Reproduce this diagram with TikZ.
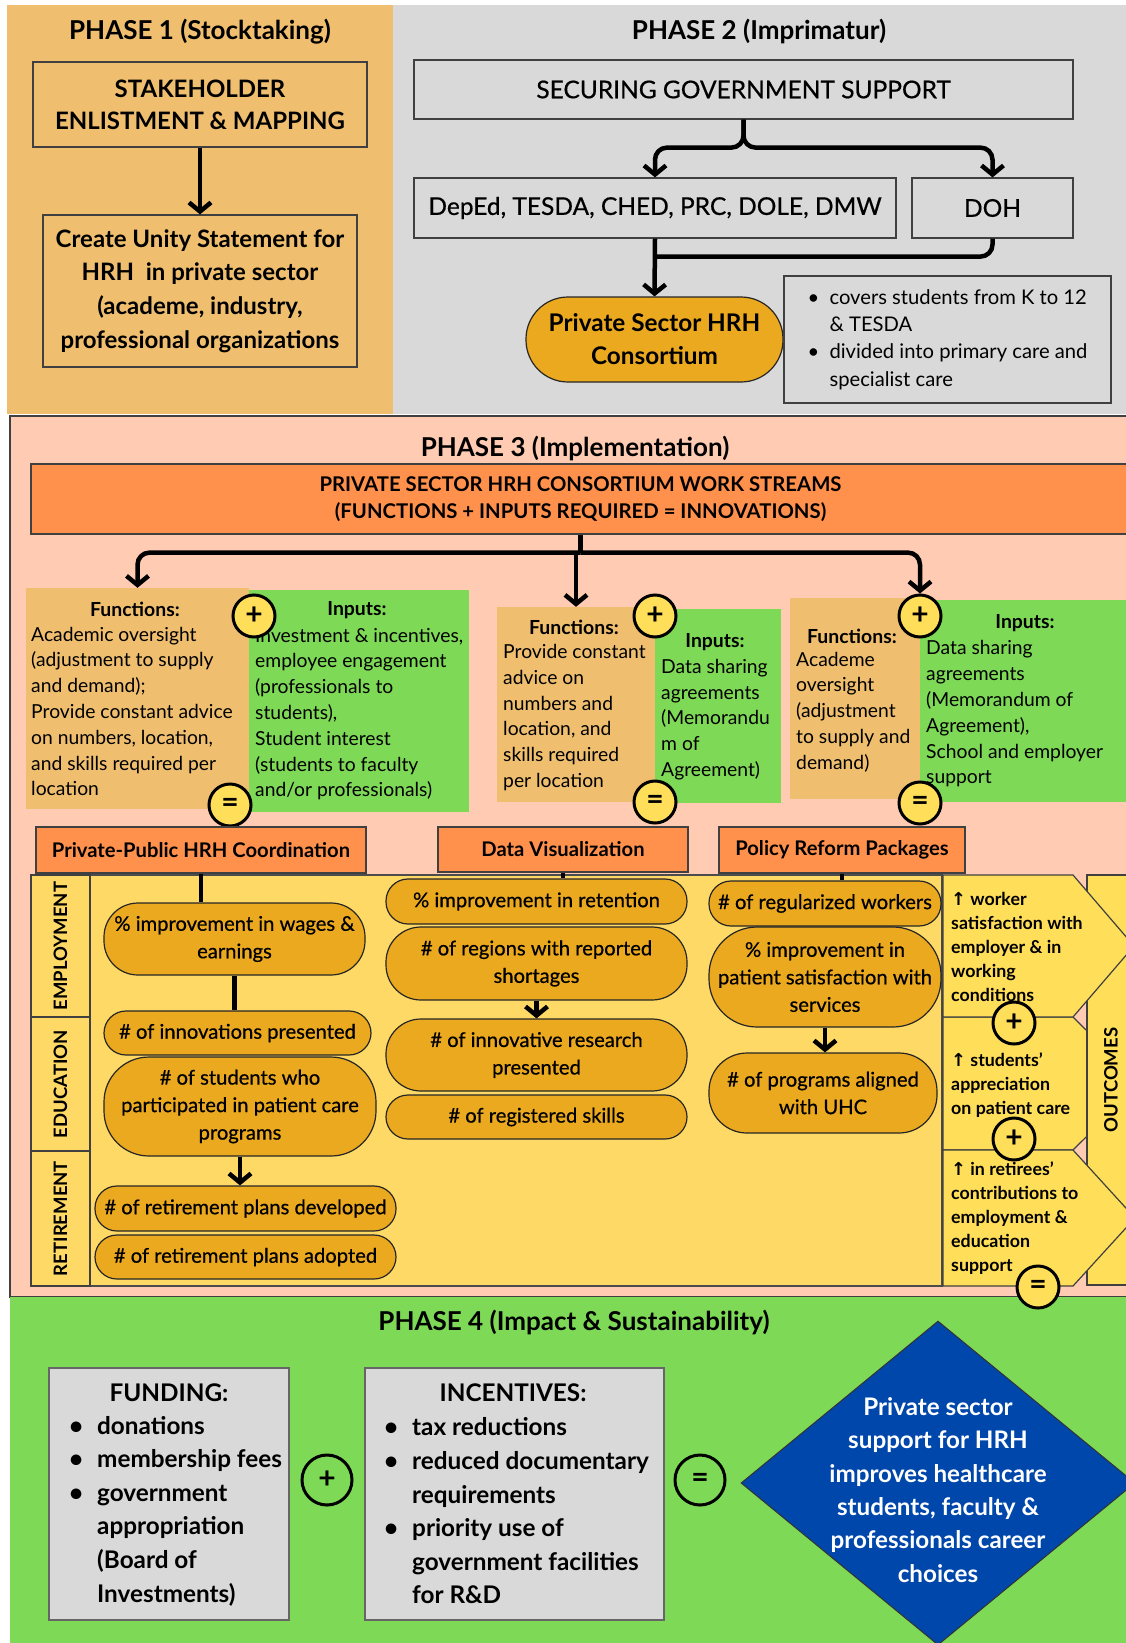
\documentclass[tikz,border=0pt]{standalone}
\usepackage{fontspec}
\setmainfont{Lato}
\newfontfamily\dejavu{DejaVu Sans}
\newfontfamily\latomed[FakeBold=0.6]{Lato}
\usetikzlibrary{arrows.meta, shapes.geometric, positioning, calc}
\definecolor{phaseone}{HTML}{EFBF6F}
\definecolor{phasegrey}{HTML}{D9D9D9}
\definecolor{phasepeach}{HTML}{FFCCB3}
\definecolor{streamorange}{HTML}{FF914D}
\definecolor{inputgreen}{HTML}{7ED957}
\definecolor{panelyellow}{HTML}{FFD966}
\definecolor{pillgold}{HTML}{EBA91F}
\definecolor{signyellow}{HTML}{FFDE59}
\definecolor{goalblue}{HTML}{0047AB}
\newcommand{\fs}[2]{\fontsize{#1}{#2}\selectfont}
\newcommand{\bul}{\makebox[22pt][l]{\textbullet}}
\newcommand{\ind}{\hspace*{22pt}}
\newcommand{\bigbul}{\makebox[28pt][l]{\textbullet}}
\newcommand{\bigind}{\hspace*{28pt}}
\newcommand{\upar}{{\dejavu ↑}}
\tikzset{
  phasetitle/.style={inner sep=0pt, font=\bfseries\fs{26}{30}},
  phbox/.style={draw=black!75, line width=1.2pt, inner sep=0pt, align=center},
  flow/.style={line width=4.5pt, line join=round, -{Straight Barb[length=9pt,width=22pt]}},
  link/.style={line width=4.5pt, line join=round},
  streambox/.style={draw=black!75, line width=1.2pt, fill=streamorange, inner sep=0pt, align=center},
  fnbox/.style={fill=phaseone, inner sep=0pt},
  inbox/.style={fill=inputgreen, inner sep=0pt},
  colhead/.style={inner sep=0pt, font=\bfseries\fs{19.4}{22}},
  coltext/.style={inner sep=0pt, align=left, font=\fs{19.3}{25.8}},
  sign/.style={circle, draw=black, line width=3pt, fill=signyellow, minimum size=42pt, inner sep=0pt, font=\bfseries\fs{30}{30}},
  panel/.style={draw=black!70, line width=1.2pt, fill=panelyellow, inner sep=0pt},
  sidebox/.style={draw=black!75, line width=1.2pt, fill=panelyellow, inner sep=0pt, font=\bfseries\fs{18.5}{20}},
  pill/.style={draw=black!85, line width=1.2pt, fill=pillgold, inner sep=0pt, align=center, font=\latomed\fs{20.2}{27.5}},
  outshape/.style={draw=black!75, line width=1.2pt, fill=signyellow},
  outtext/.style={inner sep=0pt, align=left, font=\bfseries\fs{17.8}{24}},
  greybox/.style={draw=black!60, line width=1.5pt, fill=phasegrey, inner sep=0pt},
  bighead/.style={inner sep=0pt, font=\bfseries\fs{24.3}{28}},
  bigtext/.style={inner sep=0pt, align=left, font=\bfseries\fs{24.3}{33.6}},
  goal/.style={diamond, draw=black!80, line width=1pt, fill=goalblue, inner sep=0pt},
  goaltext/.style={inner sep=0pt, align=center, text=white, font=\bfseries\fs{24.2}{33.4}},
}
\begin{document}
\begin{tikzpicture}[x=1pt, y=-1pt]
\useasboundingbox (0,0) rectangle (1126,1643);
\clip (0,0) rectangle (1126,1643);
\fill[white] (0,0) rectangle (1126,1643);

% Phase backgrounds
\fill[phaseone] (7,5) rectangle (393,414);
\fill[phasegrey] (393,5) rectangle (1126,414);
\draw[fill=phasepeach, line width=1.5pt, draw=black!75] (10,416) rectangle (1140,1297);
\fill[inputgreen] (10,1297) rectangle (1126,1643);

% Phase 1
\node[phasetitle] (ponetitle) at (200,32) {PHASE 1 (Stocktaking)};
\node[phbox, minimum width=334, minimum height=85, font=\bfseries\fs{24}{32}] (stake) at (200,104.5) {STAKEHOLDER\\ENLISTMENT \& MAPPING};
\node[phbox, minimum width=314, minimum height=152, font=\bfseries\fs{24}{33.7}] (unity) at (200,291) {Create Unity Statement for\\HRH~~in private sector\\(academe, industry,\\professional organizations};
\draw[flow] (stake) -- (unity);

% Phase 2
\node[phasetitle] (ptwotitle) at (759,31) {PHASE 2 (Imprimatur)};
\node[phbox, minimum width=659, minimum height=59, font=\latomed\fs{24.5}{30}] (gov) at (743.5,89.5) {SECURING GOVERNMENT SUPPORT};
\node[phbox, minimum width=482, minimum height=60, font=\latomed\fs{24.5}{30}] (agencies) at (655,208) {DepEd, TESDA, CHED, PRC, DOLE, DMW};
\node[phbox, minimum width=161, minimum height=60, font=\latomed\fs{24.5}{30}] (doh) at (992.5,208) {DOH};
\node[pill, minimum width=257, minimum height=85, rounded corners=42, font=\bfseries\fs{24.3}{33}] (consortium) at (654.5,339.5) {Private Sector HRH\\Consortium};
\node[phbox, minimum width=327, minimum height=127, align=left, font=\fs{20.2}{27.2}] (coverage) at (947.5,339.5) {\bul covers students from K to 12\\\ind\& TESDA\\\bul divided into primary care and\\\ind specialist care};
\coordinate (govsplit) at ($(gov.south)+(0,28)$);
\draw[flow, rounded corners=12] (gov.south) -- (govsplit) -| (agencies.north);
\draw[flow, rounded corners=12] (gov.south) -- (govsplit) -| (doh.north);
\coordinate (govmerge) at ($(agencies.south)+(0,18)$);
\draw[link, rounded corners=12] (doh.south) |- (govmerge);
\draw[flow] (agencies.south) -- (consortium.north);

% Phase 3
\node[phasetitle] (pthreetitle) at (575,448) {PHASE 3 (Implementation)};
\node[streambox, minimum width=1099, minimum height=70, font=\bfseries\fs{20.3}{27}] (streams) at (580.5,499) {PRIVATE SECTOR HRH CONSORTIUM WORK STREAMS\\(FUNCTIONS + INPUTS REQUIRED = INNOVATIONS)};

% functions + inputs
\node[fnbox, minimum width=223, minimum height=221] (fnone) at (137.5,698.5) {};
\node[inbox, minimum width=220, minimum height=222] (inone) at (359,701) {};
\node[colhead] (fnonehead) at (135,609) {Functions:};
\node[coltext, anchor=west] (fnonetext) at (31,711.5) {Academic oversight\\(adjustment to supply\\and demand);\\Provide constant advice\\on numbers, location,\\and skills required per\\location};
\node[colhead] (inonehead) at (357,610) {Inputs:};
\node[coltext, anchor=west] (inonetext) at (255,714) {Investment \& incentives,\\employee engagement\\(professionals to\\students),\\Student interest\\(students to faculty\\and/or professionals)};
\node[sign] (plusone) at (254,616) {+};
\node[sign] (eqone) at (230,805) {=};

\node[fnbox, minimum width=158, minimum height=195] (fntwo) at (576,704.5) {};
\node[inbox, minimum width=126, minimum height=194] (intwo) at (718,706) {};
\node[colhead] (fntwohead) at (574,627) {Functions:};
\node[coltext, anchor=west] (fntwotext) at (503,717.5) {Provide constant\\advice on\\numbers and\\location, and\\skills required\\per location};
\node[colhead] (intwohead) at (715,642) {Inputs:};
\node[coltext, anchor=west] (intwotext) at (661,719.5) {Data sharing\\agreements\\(Memorandu\\m of\\Agreement)};
\node[sign] (plustwo) at (655,616) {+};
\node[sign] (eqtwo) at (655,802) {=};

\node[fnbox, minimum width=130, minimum height=201] (fnthree) at (855,698.5) {};
\node[inbox, minimum width=210, minimum height=202] (inthree) at (1025,701) {};
\node[colhead] (fnthreehead) at (852,636) {Functions:};
\node[coltext, anchor=west] (fnthreetext) at (796,712) {Academe\\oversight\\(adjustment\\to supply and\\demand)};
\node[colhead] (inthreehead) at (1025,623) {Inputs:};
\node[coltext, anchor=west] (inthreetext) at (926,714) {Data sharing\\agreements\\(Memorandum of\\Agreement),\\School and employer\\support};
\node[sign] (plusthree) at (920,616) {+};
\node[sign] (eqthree) at (920,803) {=};

\coordinate (fork) at ($(streams.south)+(0,18)$);
\draw[link] (streams.south) -- (fork);
\draw[flow, rounded corners=12] (fork) -| (fnone.north);
\draw[flow, rounded corners=12] (fork) -| (plusthree.north);
\draw[flow] (fork -| fntwo.north) -- (fntwo.north);

% work streams
\node[streambox, minimum width=330, minimum height=46, font=\bfseries\fs{20.2}{24}] (wsone) at (201,850) {Private-Public HRH Coordination};
\node[streambox, minimum width=250, minimum height=45, font=\bfseries\fs{20.2}{24}] (wstwo) at (563,849.5) {Data Visualization};
\node[streambox, minimum width=246, minimum height=46, font=\bfseries\fs{20.2}{24}] (wsthree) at (842,850) {Policy Reform Packages};

\node[panel, minimum width=911, minimum height=411] (panel) at (486.5,1080.5) {};
\node[sidebox, rotate=90, minimum width=142, minimum height=59] (employment) at (60.5,946) {EMPLOYMENT};
\node[sidebox, rotate=90, minimum width=134, minimum height=59] (education) at (60.5,1084) {EDUCATION};
\node[sidebox, rotate=90, minimum width=135, minimum height=59] (retirement) at (60.5,1218.5) {RETIREMENT};

% indicators
\node[pill, minimum width=261, minimum height=72, rounded corners=34] (wages) at (234.5,939) {\% improvement in wages \&\\earnings};
\node[pill, minimum width=267, minimum height=44, rounded corners=22] (innovations) at (237.5,1033) {\# of innovations presented};
\node[pill, minimum width=272, minimum height=99, rounded corners=45] (studentsprog) at (240,1106.5) {\# of students who\\participated in patient care\\programs};
\node[pill, minimum width=301, minimum height=45, rounded corners=22] (retdev) at (245.5,1208.5) {\# of retirement plans developed};
\node[pill, minimum width=301, minimum height=44, rounded corners=22] (retadopt) at (245.5,1257) {\# of retirement plans adopted};

\node[pill, minimum width=301, minimum height=45, rounded corners=22] (retention) at (536.5,901.5) {\% improvement in retention};
\node[pill, minimum width=301, minimum height=73, rounded corners=35] (shortages) at (536.5,963.5) {\# of regions with reported\\shortages};
\node[pill, minimum width=301, minimum height=72, rounded corners=35] (research) at (536.5,1055) {\# of innovative research\\presented};
\node[pill, minimum width=301, minimum height=44, rounded corners=22] (skills) at (536.5,1117) {\# of registered skills};

\node[pill, minimum width=232, minimum height=45, rounded corners=22] (regularized) at (825,903.5) {\# of regularized workers};
\node[pill, minimum width=232, minimum height=100, rounded corners=48] (patientsat) at (825,977) {\% improvement in\\patient satisfaction with\\services};
\node[pill, minimum width=228, minimum height=80, rounded corners=38] (uhc) at (823,1093) {\# of programs aligned\\with UHC};

\draw[link] (wsone.south) -- (wsone.south |- wages.north);
\draw[link] (wages.south) -- (wages.south |- innovations.north);
\draw[flow] (studentsprog.south) -- (studentsprog.south |- retdev.north);
\draw[link] (wstwo.south) -- (wstwo.south |- retention.north);
\draw[flow] (shortages.south) -- (shortages.south |- research.north);
\draw[link] (wsthree.south) -- (wsthree.south |- regularized.north);
\draw[flow] (patientsat.south) -- (patientsat.south |- uhc.north);

% outcomes
\draw[outshape] (943,1017) -- (1073,1017) -- (1140,1083.5) -- (1073,1150) -- (943,1150) -- cycle;
\node[sidebox, fill=signyellow, rotate=90, minimum width=410, minimum height=48] (outcomes) at (1111,1080) {OUTCOMES};
\draw[outshape] (943,875) -- (1073,875) -- (1134,946) -- (1073,1017) -- (943,1017) -- cycle;
\draw[outshape] (943,1150) -- (1073,1150) -- (1135,1218) -- (1073,1286) -- (943,1286) -- cycle;
\node[outtext, anchor=west] (workersat) at (951,947) {\upar{} worker\\satisfaction with\\employer \& in\\working\\conditions};
\node[outtext, anchor=west] (studentapp) at (951,1085) {\upar{} students’\\appreciation\\on patient care};
\node[outtext, anchor=west] (retirees) at (951,1218) {\upar{} in retirees’\\contributions to\\employment \&\\education\\support};
\node[sign] (outplusone) at (1014,1023) {+};
\node[sign] (outplustwo) at (1014,1139) {+};
\node[sign] (outeq) at (1038,1287) {=};

% Phase 4
\node[phasetitle] (pfourtitle) at (574,1322) {PHASE 4 (Impact \& Sustainability)};
\node[greybox, minimum width=240, minimum height=252] (funding) at (169,1494) {};
\node[bighead] (fundinghead) at (169,1393) {FUNDING:};
\node[bigtext, anchor=west] (fundinglist) at (69,1511) {\bigbul donations\\\bigbul membership fees\\\bigbul government\\\bigind appropriation\\\bigind (Board of\\\bigind Investments)};
\node[sign, fill=none, minimum size=50pt] (fundplus) at (327,1480) {+};
\node[greybox, minimum width=299, minimum height=252] (incentives) at (514.5,1494) {};
\node[bighead] (incentiveshead) at (513,1393) {INCENTIVES:};
\node[bigtext, anchor=west] (incentiveslist) at (384,1511) {\bigbul tax reductions\\\bigbul reduced documentary\\\bigind requirements\\\bigbul priority use of\\\bigind government facilities\\\bigind for R\&D};
\node[sign, fill=none, minimum size=50pt] (fundeq) at (700,1480) {=};
\node[goal, minimum width=394, minimum height=324] (goal) at (938,1483) {};
\node[goaltext] (goaltext) at (938,1490) {Private sector\\support for HRH\\improves healthcare\\students, faculty \&\\professionals career\\choices};
\end{tikzpicture}
\end{document}
